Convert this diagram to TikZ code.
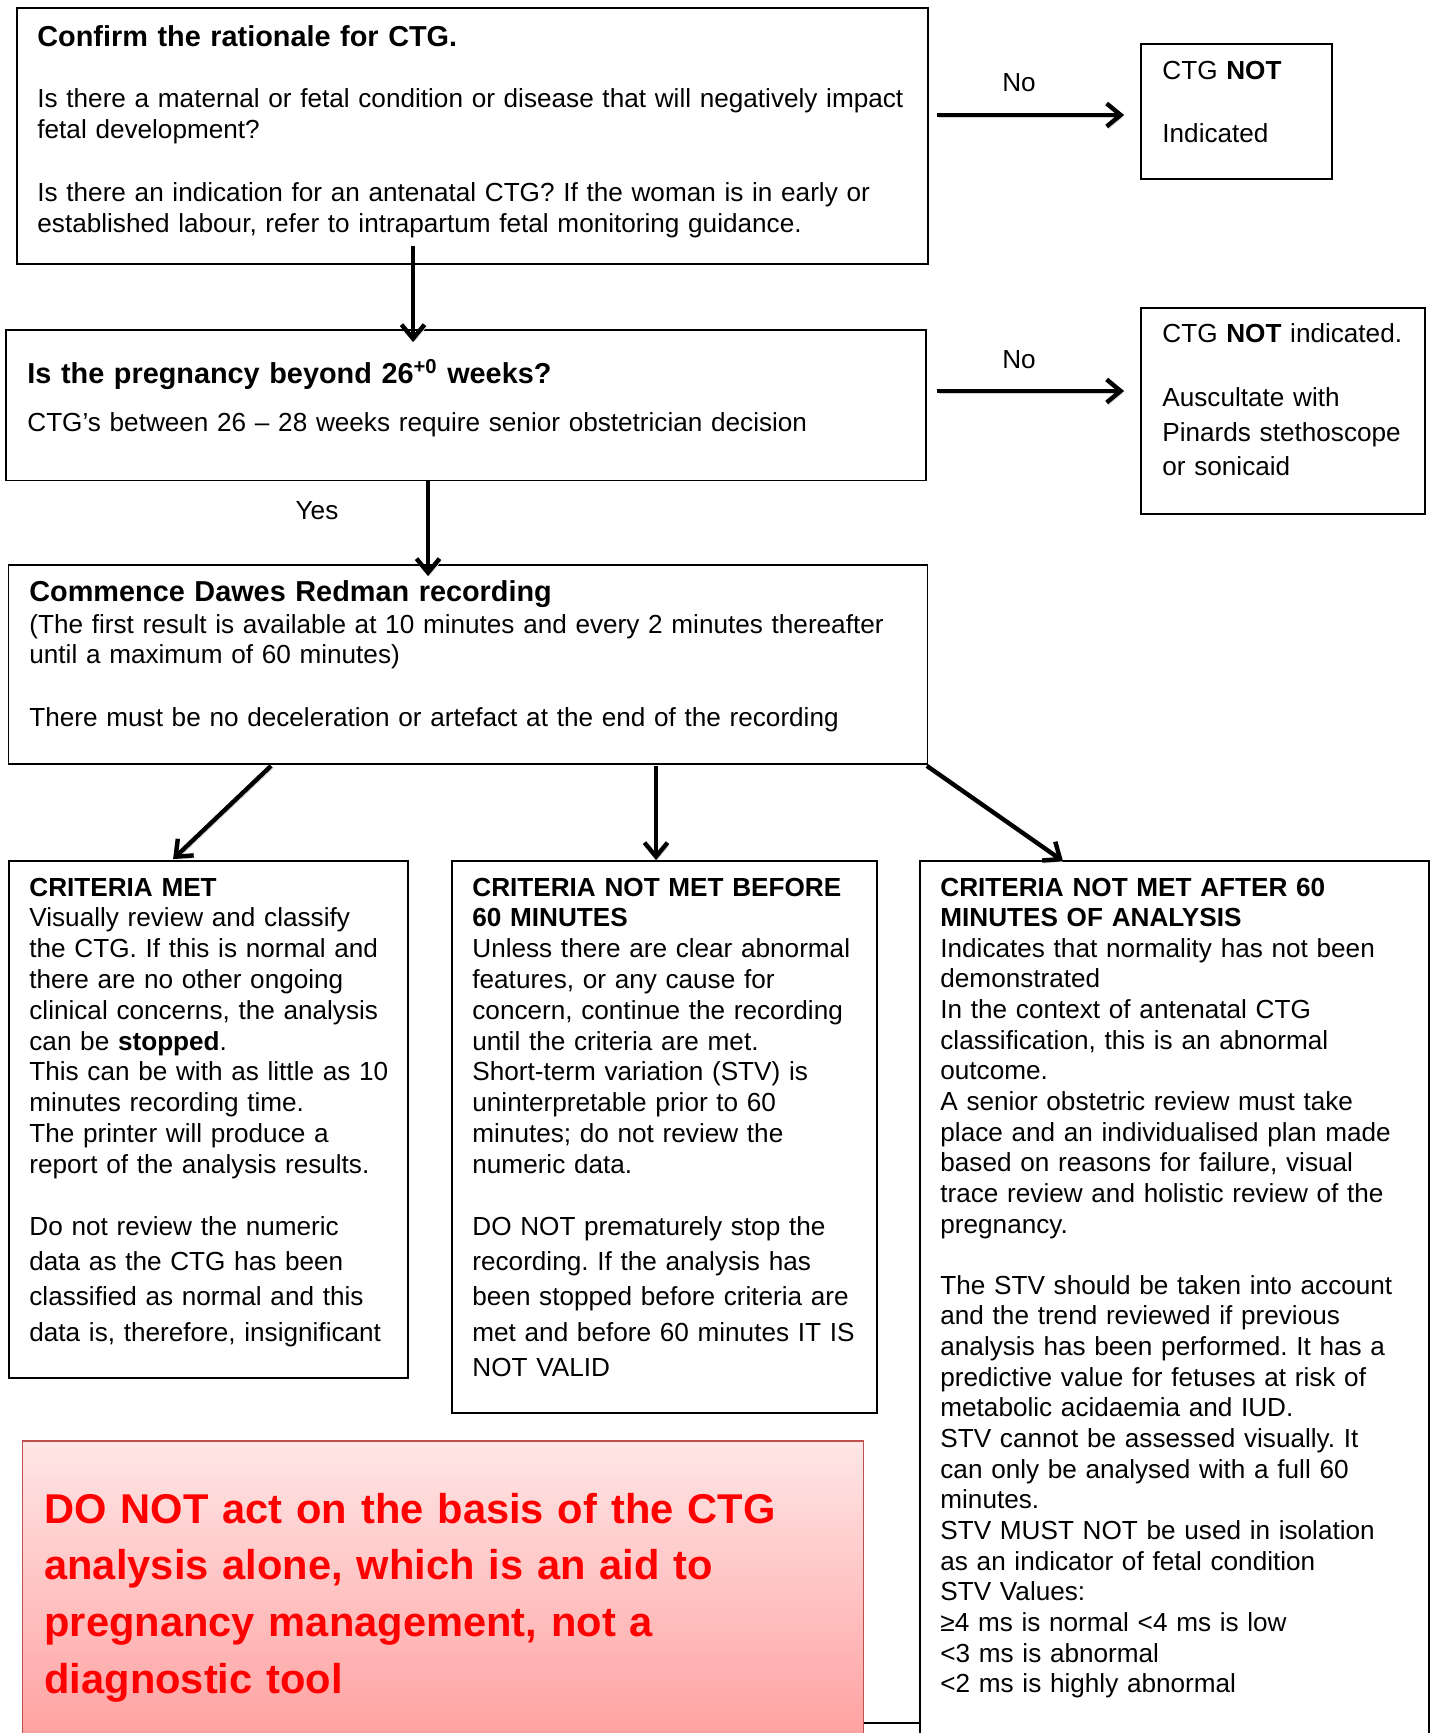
\documentclass[tikz,border=0pt]{standalone}
\usepackage{fontspec}
\setmainfont{Liberation Sans}
\usetikzlibrary{arrows.meta,calc,fit}
\frenchspacing
\definecolor{redtxt}{HTML}{FF0000}
\definecolor{redtop}{HTML}{FFE6E6}
\definecolor{redbot}{HTML}{FF9E9E}
\definecolor{redframe}{HTML}{C0504D}
\newcommand\fsbody{\fontsize{13.07pt}{15.4pt}\selectfont}
\newcommand\fsloose{\fontsize{13.07pt}{17.7pt}\selectfont}
\newcommand\fsright{\fontsize{13.07pt}{17.5pt}\selectfont}
\newcommand\fssix{\fontsize{13.07pt}{15.32pt}\selectfont}
\newcommand\fstitle{\fontsize{14.42pt}{17pt}\selectfont}
\newcommand\fswarn{\fontsize{20.82pt}{28.35pt}\selectfont}
\begin{document}
\begin{tikzpicture}[x=0.5pt,y=-0.5pt,
  boxst/.style={draw=black, line width=0.9pt, inner sep=0pt},
  txt/.style={anchor=base west, inner sep=0pt, align=left, font=\fsbody},
  lbl/.style={anchor=base, inner sep=0pt, font=\fsbody},
  arr/.style={line width=2.2pt, -{Straight Barb[length=7pt,width=11.5pt]},
    preaction={draw=black!18, transform canvas={xshift=0.8pt,yshift=-1.2pt}}},
]
\useasboundingbox (0,0) rectangle (1431,1733);

% boxes
\node[boxst, fit={(17,8) (928,264)}] (b1) {};
\node[boxst, fit={(1141,44) (1332,179)}] (nb1) {};
\node[boxst, fit={(6,330) (926,480.5)}] (b2) {};
\node[boxst, fit={(1141,308) (1425,514)}] (nb2) {};
\node[boxst, fit={(8.5,565) (927.5,764)}] (b3) {};
\node[boxst, fit={(8.6,861) (407.6,1378)}] (b4) {};
\node[boxst, fit={(451.8,861) (877,1413)}] (b5) {};
\node[boxst, fit={(920,861) (1429,1760)}] (b6) {};
\node[draw=redframe, line width=0.6pt, inner sep=0pt, top color=redtop, bottom color=redbot,
      fit={(22.5,1441) (863.5,1750)}] (warn) {};

% box 1 text
\node[txt, text width=442pt, font={\fstitle\bfseries}] (t1a) at (37,46.5) {Confirm the rationale for CTG.};
\node[txt, text width=442pt] (t1b) at (37,108) {Is there a maternal or fetal condition or disease that will negatively impact\\fetal development?};
\node[txt, text width=442pt] (t1c) at (37,202) {Is there an indication for an antenatal CTG? If the woman is in early or\\established labour, refer to intrapartum fetal monitoring guidance.};

% right boxes text
\node[txt, text width=83pt] (tn1a) at (1162,80) {CTG \textbf{NOT}};
\node[txt, text width=83pt] (tn1b) at (1162,143) {Indicated};
\node[txt, text width=129pt] (tn2a) at (1162,343) {CTG \textbf{NOT} indicated.};
\node[txt, text width=129pt, font=\fsright] (tn2b) at (1162,406) {Auscultate with\\Pinards stethoscope\\or sonicaid};

% box 2 text
\node[txt, text width=446pt, font={\fstitle\bfseries}] (t2a) at (27,384) {Is the pregnancy beyond 26\textsuperscript{+0} weeks?};
\node[txt, text width=446pt] (t2b) at (27,431) {CTG’s between 26 – 28 weeks require senior obstetrician decision};

% box 3 text
\node[txt, text width=446pt, font={\fstitle\bfseries}] (t3a) at (29,601) {Commence Dawes Redman recording};
\node[txt, text width=446pt] (t3b) at (29,633) {(The first result is available at 10 minutes and every 2 minutes thereafter\\until a maximum of 60 minutes)};
\node[txt, text width=446pt] (t3c) at (29,726) {There must be no deceleration or artefact at the end of the recording};

% box 4 text
\node[txt, text width=186pt] (t4a) at (29,896) {\textbf{CRITERIA MET}\\Visually review and classify\\the CTG. If this is normal and\\there are no other ongoing\\clinical concerns, the analysis\\can be \textbf{stopped}.\\This can be with as little as 10\\minutes recording time.\\The printer will produce a\\report of the analysis results.};
\node[txt, text width=186pt, font=\fsloose] (t4b) at (29,1235) {Do not review the numeric\\data as the CTG has been\\classified as normal and this\\data is, therefore, insignificant};

% box 5 text
\node[txt, text width=200pt] (t5a) at (472,896) {\textbf{CRITERIA NOT MET BEFORE}\\\textbf{60 MINUTES}\\Unless there are clear abnormal\\features, or any cause for\\concern, continue the recording\\until the criteria are met.\\Short-term variation (STV) is\\uninterpretable prior to 60\\minutes; do not review the\\numeric data.};
\node[txt, text width=200pt, font=\fsloose] (t5b) at (472,1235) {DO NOT prematurely stop the\\recording. If the analysis has\\been stopped before criteria are\\met and before 60 minutes IT IS\\NOT VALID};

% box 6 text
\node[txt, text width=242pt, font=\fssix] (t6) at (940,896) {\textbf{CRITERIA NOT MET AFTER 60}\\\textbf{MINUTES OF ANALYSIS}\\Indicates that normality has not been\\demonstrated\\In the context of antenatal CTG\\classification, this is an abnormal\\outcome.\\A senior obstetric review must take\\place and an individualised plan made\\based on reasons for failure, visual\\trace review and holistic review of the\\pregnancy.\\[15.32pt]The STV should be taken into account\\and the trend reviewed if previous\\analysis has been performed. It has a\\predictive value for fetuses at risk of\\metabolic acidaemia and IUD.\\STV cannot be assessed visually. It\\can only be analysed with a full 60\\minutes.\\STV MUST NOT be used in isolation\\as an indicator of fetal condition\\STV Values:\\≥4 ms is normal <4 ms is low\\<3 ms is abnormal\\<2 ms is highly abnormal};

% warning text
\node[txt, text width=406pt, font={\fswarn\bfseries}, text=redtxt] (tw) at (44,1523) {DO NOT act on the basis of the CTG\\analysis alone, which is an aid to\\pregnancy management, not a\\diagnostic tool};

% labels
\node[lbl] (no1) at (1019,92) {No};
\node[lbl] (no2) at (1019,369) {No};
\node[lbl] (yes) at (317,519.5) {Yes};

% connectors
\coordinate (ya) at (0,115);
\coordinate (yb) at (0,391);
\coordinate (yc) at (0,1723);
\draw[arr] ($(b1.east |- ya)+(8,0)$) -- ($(nb1.west |- ya)+(-16,0)$);
\draw[arr] ($(b2.east |- yb)+(10,0)$) -- ($(nb2.west |- yb)+(-16,0)$);
\draw[arr] ($(b1.south)+(-59.5,-19)$) -- ($(b2.north)+(-53,13)$);
\draw[arr] ($(b2.south)+(-38,0)$) -- ($(b3.north)+(-40,12)$);
\draw[arr] ($(b3.south)+(-197,1)$) -- ($(b4.north)+(-35,-1)$);
\draw[arr] ($(b3.south)+(188,1)$) -- ($(b5.north)+(-8.4,0)$);
\draw[arr] ($(b3.south east)+(-1.5,1)$) -- ($(b6.north)+(-111.5,1)$);
\draw[line width=0.9pt] (warn.east |- yc) -- (b6.west |- yc);
\end{tikzpicture}
\end{document}
